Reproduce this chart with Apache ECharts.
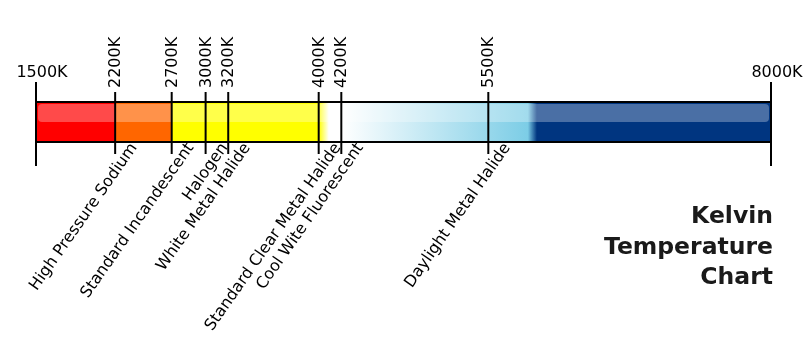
<!DOCTYPE html>
<html>
<head>
<meta charset="utf-8">
<script src="https://cdn.jsdelivr.net/npm/echarts@6/dist/echarts.min.js"></script>
<style>
  html, body { margin: 0; padding: 0; background: #ffffff; }
  #chart { width: 811px; height: 354px; }
</style>
</head>
<body>
<div id="chart"></div>
<script>
// ---- data ----
const kelvinTicks = [1500, 2200, 2700, 3000, 3200, 4000, 4200, 5500, 8000];
const tickLabels = ['1500K', '2200K', '2700K', '3000K', '3200K', '4000K', '4200K', '5500K', '8000K'];
const lampTypes = ['', 'High Pressure Sodium', 'Standard Incandescent', 'Halogen', 'White Metal Halide',
  'Standard Clear Metal Halide', 'Cool Wite Fluorescent', 'Daylight Metal Halide', ''];
// colour band stops along the bar (Kelvin)
const bandStopsK = [1500, 2200, 2200, 2700, 2700, 4000, 4090, 4200, 5850, 5930, 8000];
const titleLines = ['Kelvin', 'Temperature', 'Chart'];

// ---- styles ----
const bandColors = ['#ff0000', '#ff0000', '#ff6600', '#ff6600', '#ffff00', '#ffff00',
  '#ffffff', '#ffffff', '#7ccde6', '#003580', '#003580'];
const FONT = '"DejaVu Sans", sans-serif';
const LABEL_FONT = '16px ' + FONT;

const kMin = kelvinTicks[0];
const kMax = kelvinTicks[kelvinTicks.length - 1];

const chart = echarts.init(document.getElementById('chart'), null, { renderer: 'canvas' });

function renderBar(params, api) {
  const p0 = api.coord([api.value(0), 1]);
  const p1 = api.coord([api.value(1), 0]);
  const x0 = p0[0], x1 = p1[0], yTop = p0[1], yBot = p1[1];
  const w = x1 - x0, h = yBot - yTop;
  const stops = bandStopsK.map(function (k, i) {
    return { offset: (api.coord([k, 0])[0] - x0) / w, color: bandColors[i] };
  });
  return {
    type: 'group',
    children: [
      {
        type: 'rect',
        shape: { x: x0, y: yTop, width: w, height: h },
        style: { fill: new echarts.graphic.LinearGradient(0, 0, 1, 0, stops) }
      },
      {
        type: 'rect',
        shape: { x: x0 + 2, y: yTop + 2, width: w - 4, height: h / 2 - 2, r: 4 },
        style: { fill: 'rgba(255,255,255,0.29)' }
      },
      {
        type: 'rect',
        shape: { x: x0, y: yTop, width: w, height: h },
        style: { fill: null, stroke: '#000', lineWidth: 2 }
      }
    ]
  };
}

function renderTick(params, api) {
  const k = api.value(0);
  const idx = params.dataIndex;
  const isEnd = (k === kMin || k === kMax);
  const x = api.coord([k, 0])[0];
  const yTopLine = api.coord([k, isEnd ? 1.5 : 1.25])[1];
  const yBotLine = api.coord([k, isEnd ? -0.6 : -0.3])[1];
  const children = [
    {
      type: 'line',
      shape: { x1: x, y1: yTopLine, x2: x, y2: yBotLine },
      style: { stroke: '#000', lineWidth: 2 }
    }
  ];
  if (isEnd) {
    children.push({
      type: 'text',
      x: x + 6, y: yTopLine - 1,
      style: { text: tickLabels[idx], font: LABEL_FONT, fill: '#000', align: 'center', verticalAlign: 'bottom' }
    });
  } else {
    children.push({
      type: 'text',
      x: x + 1, y: yTopLine - 4,
      rotation: Math.PI / 2,
      style: { text: tickLabels[idx], font: LABEL_FONT, fill: '#000', align: 'left', verticalAlign: 'middle' }
    });
  }
  if (lampTypes[idx]) {
    children.push({
      type: 'text',
      x: x + 19, y: yBotLine - 9,
      rotation: 55 * Math.PI / 180,
      style: { text: lampTypes[idx], font: LABEL_FONT, fill: '#000', align: 'right', verticalAlign: 'middle' }
    });
  }
  return { type: 'group', children: children };
}

const titleFont = 'bold 23.5px ' + FONT;
const titleGraphics = titleLines.map(function (line, i) {
  return {
    type: 'text',
    right: 38,
    top: 205 + i * 30.5,
    style: { text: line, font: titleFont, fill: '#1a1a1a' }
  };
});

chart.setOption({
  animation: false,
  backgroundColor: '#ffffff',
  grid: { left: 36, right: 40, top: 102, height: 40 },
  xAxis: { type: 'value', min: kMin, max: kMax, show: false },
  yAxis: { type: 'value', min: 0, max: 1, show: false },
  graphic: titleGraphics,
  series: [
    {
      type: 'custom',
      renderItem: renderBar,
      data: [[kMin, kMax]],
      silent: true,
      clip: false,
      z: 1
    },
    {
      type: 'custom',
      renderItem: renderTick,
      data: kelvinTicks.map(function (k) { return [k]; }),
      silent: true,
      clip: false,
      z: 2
    }
  ]
});
</script>
</body>
</html>
